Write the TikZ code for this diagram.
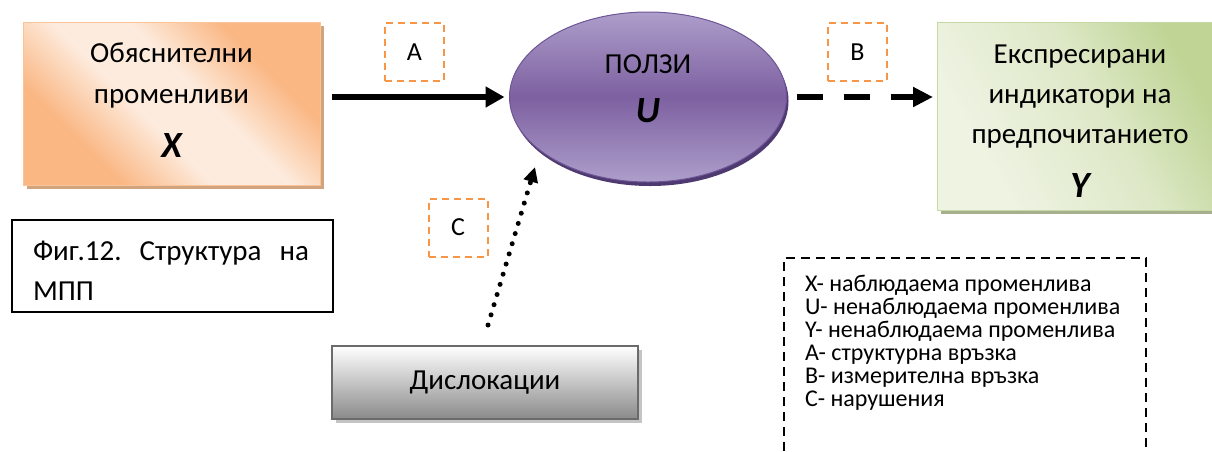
\documentclass[tikz,border=0pt]{standalone}
\usepackage{fontspec}
\setmainfont{Carlito}
\usetikzlibrary{shapes.geometric,arrows.meta,calc,shadows}
\definecolor{pchD}{HTML}{FAB784}
\definecolor{pchL}{HTML}{FDEBDD}
\definecolor{pchS}{HTML}{D2A47E}
\definecolor{pchB}{HTML}{F9C49A}
\definecolor{purL}{HTML}{AD9ECB}
\definecolor{purD}{HTML}{7D60A0}
\definecolor{purB}{HTML}{6E5596}
\definecolor{purS}{HTML}{4E3A70}
\definecolor{grL}{HTML}{EEF3E2}
\definecolor{grD}{HTML}{BFD495}
\definecolor{grS}{HTML}{A6B08F}
\definecolor{grB}{HTML}{C6D8A4}
\definecolor{orn}{HTML}{F79646}
\definecolor{gyB}{HTML}{8A8A8A}
\definecolor{gyE}{HTML}{6B6B6B}
\definecolor{gyS}{HTML}{C4C4C4}
\pgfdeclarehorizontalshading{peachsh}{100bp}{color(0bp)=(pchD); color(30bp)=(pchD); color(44bp)=(pchL); color(56bp)=(pchL); color(70bp)=(pchD); color(100bp)=(pchD)}
\pgfdeclarehorizontalshading{greensh}{100bp}{color(0bp)=(grL); color(30bp)=(grL); color(55bp)=(grL!65!grD); color(75bp)=(grD); color(100bp)=(grD)}
\begin{document}
\begin{tikzpicture}[x=1pt,y=-1pt,
  every node/.style={inner sep=0pt, outer sep=0pt},
  mtext/.style={font=\fontsize{29}{34}\selectfont},
  btext/.style={font=\fontsize{37}{40}\selectfont\bfseries\itshape},
  ltext/.style={font=\fontsize{24}{23}\selectfont, anchor=base west},
  lblbox/.style={draw=orn, line width=2pt, dash pattern=on 7pt off 5pt,
    minimum width=59pt, minimum height=58pt, font=\fontsize{26}{30}\selectfont},
  solidarr/.style={line width=6pt, -{Triangle[length=19pt,width=20pt]}},
  dasharr/.style={line width=6pt, dash pattern=on 26pt off 21pt, -{Triangle[length=20pt,width=19pt]}},
  dotarr/.style={line width=5pt, line cap=round, dash pattern=on 0pt off 10.6pt, -{Triangle[length=15pt,width=14pt]}}
]
\useasboundingbox (0,0) rectangle (1212,451);
% X box
\node[draw=pchB, line width=1pt, shading=peachsh, shading angle=45,
  minimum width=297pt, minimum height=163pt,
  drop shadow={fill=pchS, opacity=1, shadow xshift=4pt, shadow yshift=-4pt}] (X) at (171.5,103.5) {};
\node[mtext, anchor=base] (Xa) at (171.5,62) {Обяснителни};
\node[mtext, anchor=base] (Xb) at (171.5,103) {променливи};
\node[btext, anchor=base] (Xc) at (171.5,157) {X};
% U ellipse
\node[ellipse, draw=purB, line width=1pt, top color=purL, bottom color=purL, middle color=purD,
  minimum width=277pt, minimum height=170pt,
  drop shadow={fill=purS, opacity=1, shadow xshift=2pt, shadow yshift=-4pt}] (U) at (648,97) {};
\node[mtext, anchor=base] (Ua) at (648,73) {ПОЛЗИ};
\node[btext, anchor=base] (Ub) at (648,122) {U};
% Y box
\node[draw=grB, line width=1pt, shading=greensh, shading angle=30,
  minimum width=278pt, minimum height=188pt,
  drop shadow={fill=grS, opacity=1, shadow xshift=4pt, shadow yshift=-4pt}] (Y) at (1076,116) {};
\node[mtext, anchor=base] (Ya) at (1080,63) {Експресирани};
\node[mtext, anchor=base] (Yb) at (1080,103) {индикатори на};
\node[mtext, anchor=base] (Yc) at (1080,143) {предпочитанието};
\node[btext, anchor=base] (Yd) at (1080,197) {Y};
% labels
\node[lblbox] (A) at (414.5,52) {A};
\node[lblbox] (B) at (857.5,52) {B};
\node[lblbox] (C) at (458,227.5) {C};
% Dislocations
\node[draw=gyE, line width=2pt, top color=white, bottom color=gyB,
  minimum width=306pt, minimum height=73pt, font=\fontsize{29}{34}\selectfont,
  drop shadow={fill=gyS, opacity=1, shadow xshift=4pt, shadow yshift=-4pt}] (D) at (485,382.5) {Дислокации};
% Figure caption
\node[draw=black, line width=2pt, minimum width=321pt, minimum height=92pt] (F) at (172.5,266) {};
\node[mtext, anchor=base west, text width=276pt] (Fa) at (33,260) {Фиг.12.\hfill Структура\hfill на};
\node[mtext, anchor=base west] (Fb) at (33,300) {МПП};
% legend
\draw[line width=2.5pt, dash pattern=on 9pt off 6pt] (784,451) -- (784,258) -- (1146,258) -- (1146,451);
\node[ltext] (L1) at (805,291) {X- наблюдаема променлива};
\node[ltext] (L2) at (805,314) {U- ненаблюдаема променлива};
\node[ltext] (L3) at (805,337) {Y- ненаблюдаема променлива};
\node[ltext] (L4) at (805,360) {A- структурна връзка};
\node[ltext] (L5) at (805,383) {B- измерителна връзка};
\node[ltext] (L6) at (805,406) {C- нарушения};
% connectors
\draw[solidarr, shorten <=12pt, shorten >=5pt] (X.east |- U.center) -- (U.west);
\draw[dasharr, shorten <=10pt, shorten >=4pt] (U.east) -- (Y.west |- U.east);
\coordinate (cs) at (488,325);
\coordinate (ce) at (535,167);
\draw[dotarr] (cs) -- (ce);
\end{tikzpicture}
\end{document}
